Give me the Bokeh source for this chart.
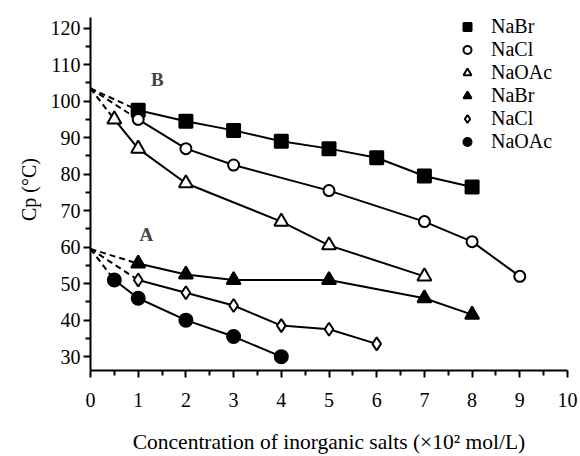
from bokeh.plotting import figure
from bokeh.models import Legend, LegendItem, Range1d, FixedTicker, Label
from bokeh.embed import file_html
from bokeh.resources import INLINE

# Series B (upper group)
b_nabr_x = [1, 2, 3, 4, 5, 6, 7, 8]
b_nabr_y = [97.5, 94.5, 92, 89, 87, 84.5, 79.5, 76.5]
b_nacl_x = [1, 2, 3, 5, 7, 8, 9]
b_nacl_y = [95, 87, 82.5, 75.5, 67, 61.5, 52]
b_naoac_x = [0.5, 1, 2, 4, 5, 7]
b_naoac_y = [95, 87, 77.5, 67, 60.5, 52]
# Series A (lower group)
a_nabr_x = [1, 2, 3, 5, 7, 8]
a_nabr_y = [55.5, 52.5, 51, 51, 46, 41.5]
a_nacl_x = [1, 2, 3, 4, 5, 6]
a_nacl_y = [51, 47.5, 44, 38.5, 37.5, 33.5]
a_naoac_x = [0.5, 1, 2, 3, 4]
a_naoac_y = [51, 46, 40, 35.5, 30]
# extrapolated intercepts at zero concentration (dashed)
b_intercept = 103.5
a_intercept = 59.5

x_ticks = [0, 1, 2, 3, 4, 5, 6, 7, 8, 9, 10]
y_ticks = [30, 40, 50, 60, 70, 80, 90, 100, 110, 120]

FONT = "Liberation Serif"

p = figure(width=580, height=456, output_backend="svg", toolbar_location=None,
           x_range=Range1d(0, 10), y_range=Range1d(26.2, 125.4),
           min_border_left=90, min_border_right=13, min_border_top=8, min_border_bottom=80)
p.outline_line_color = None
p.grid.visible = False
p.background_fill_color = "white"

for ax in (p.xaxis[0], p.yaxis[0]):
    ax.axis_line_width = 2
    ax.axis_line_color = "black"
    ax.major_tick_line_width = 2
    ax.minor_tick_line_width = 2
    ax.major_tick_in = 0
    ax.minor_tick_in = 0
    ax.major_tick_out = 7
    ax.minor_tick_out = 5
    ax.major_label_text_font = FONT
    ax.major_label_text_font_size = "20px"
    ax.major_label_text_color = "black"
    ax.axis_label_text_font = FONT
    ax.axis_label_text_font_style = "normal"
    ax.axis_label_text_color = "black"

p.yaxis[0].bounds = (26.2, 123)
p.xaxis[0].ticker = FixedTicker(ticks=x_ticks, minor_ticks=[v + 0.5 for v in x_ticks[:-1]])
p.yaxis[0].ticker = FixedTicker(ticks=y_ticks, minor_ticks=[v + 5 for v in y_ticks[:-1]])
p.xaxis[0].major_label_standoff = 15
p.yaxis[0].major_label_standoff = 3
p.xaxis[0].axis_label = "Concentration of inorganic salts (\u00d710\u00b2 mol/L)"
p.xaxis[0].axis_label_text_font_size = "21.5px"
p.xaxis[0].axis_label_standoff = 20
p.yaxis[0].axis_label = "Cp (\u00b0C)"
p.yaxis[0].axis_label_text_font_size = "20px"
p.yaxis[0].axis_label_standoff = 8

LW = 2
series = [
    (b_nabr_x, b_nabr_y, b_intercept, "square", True, 13, "NaBr"),
    (b_nacl_x, b_nacl_y, b_intercept, "circle", False, 11, "NaCl"),
    (b_naoac_x, b_naoac_y, b_intercept, "triangle", False, 14, "NaOAc"),
    (a_nabr_x, a_nabr_y, a_intercept, "triangle", True, 14, "NaBr"),
    (a_nacl_x, a_nacl_y, a_intercept, "diamond", False, 13, "NaCl"),
    (a_naoac_x, a_naoac_y, a_intercept, "circle", True, 13, "NaOAc"),
]

items = []
for xs, ys, y0, marker, filled, size, name in series:
    p.line([0, xs[0]], [y0, ys[0]], line_color="black", line_width=LW, line_dash="6 4")
    p.line(xs, ys, line_color="black", line_width=LW)
    r = p.scatter(xs, ys, marker=marker, size=size,
                  fill_color="black" if filled else "white",
                  line_color="black", line_width=2)
    items.append(LegendItem(label=name, renderers=[r]))

legend = Legend(items=items, location=(367, 217), orientation="vertical",
                spacing=0, padding=0, margin=0, glyph_width=20, glyph_height=21,
                label_height=21, label_standoff=14,
                label_text_font=FONT, label_text_font_size="20px",
                label_text_line_height=1.0,
                label_text_color="black",
                border_line_color=None, background_fill_alpha=0)
p.add_layout(legend, "center")

p.add_layout(Label(x=1.4, y=106, text="B", text_font=FONT, text_font_style="bold",
                   text_font_size="19px", text_align="center", text_baseline="middle"))
p.add_layout(Label(x=1.17, y=63.5, text="A", text_font=FONT, text_font_style="bold",
                   text_font_size="19px", text_align="center", text_baseline="middle"))

open("out.html", "w").write(file_html(p, INLINE))
